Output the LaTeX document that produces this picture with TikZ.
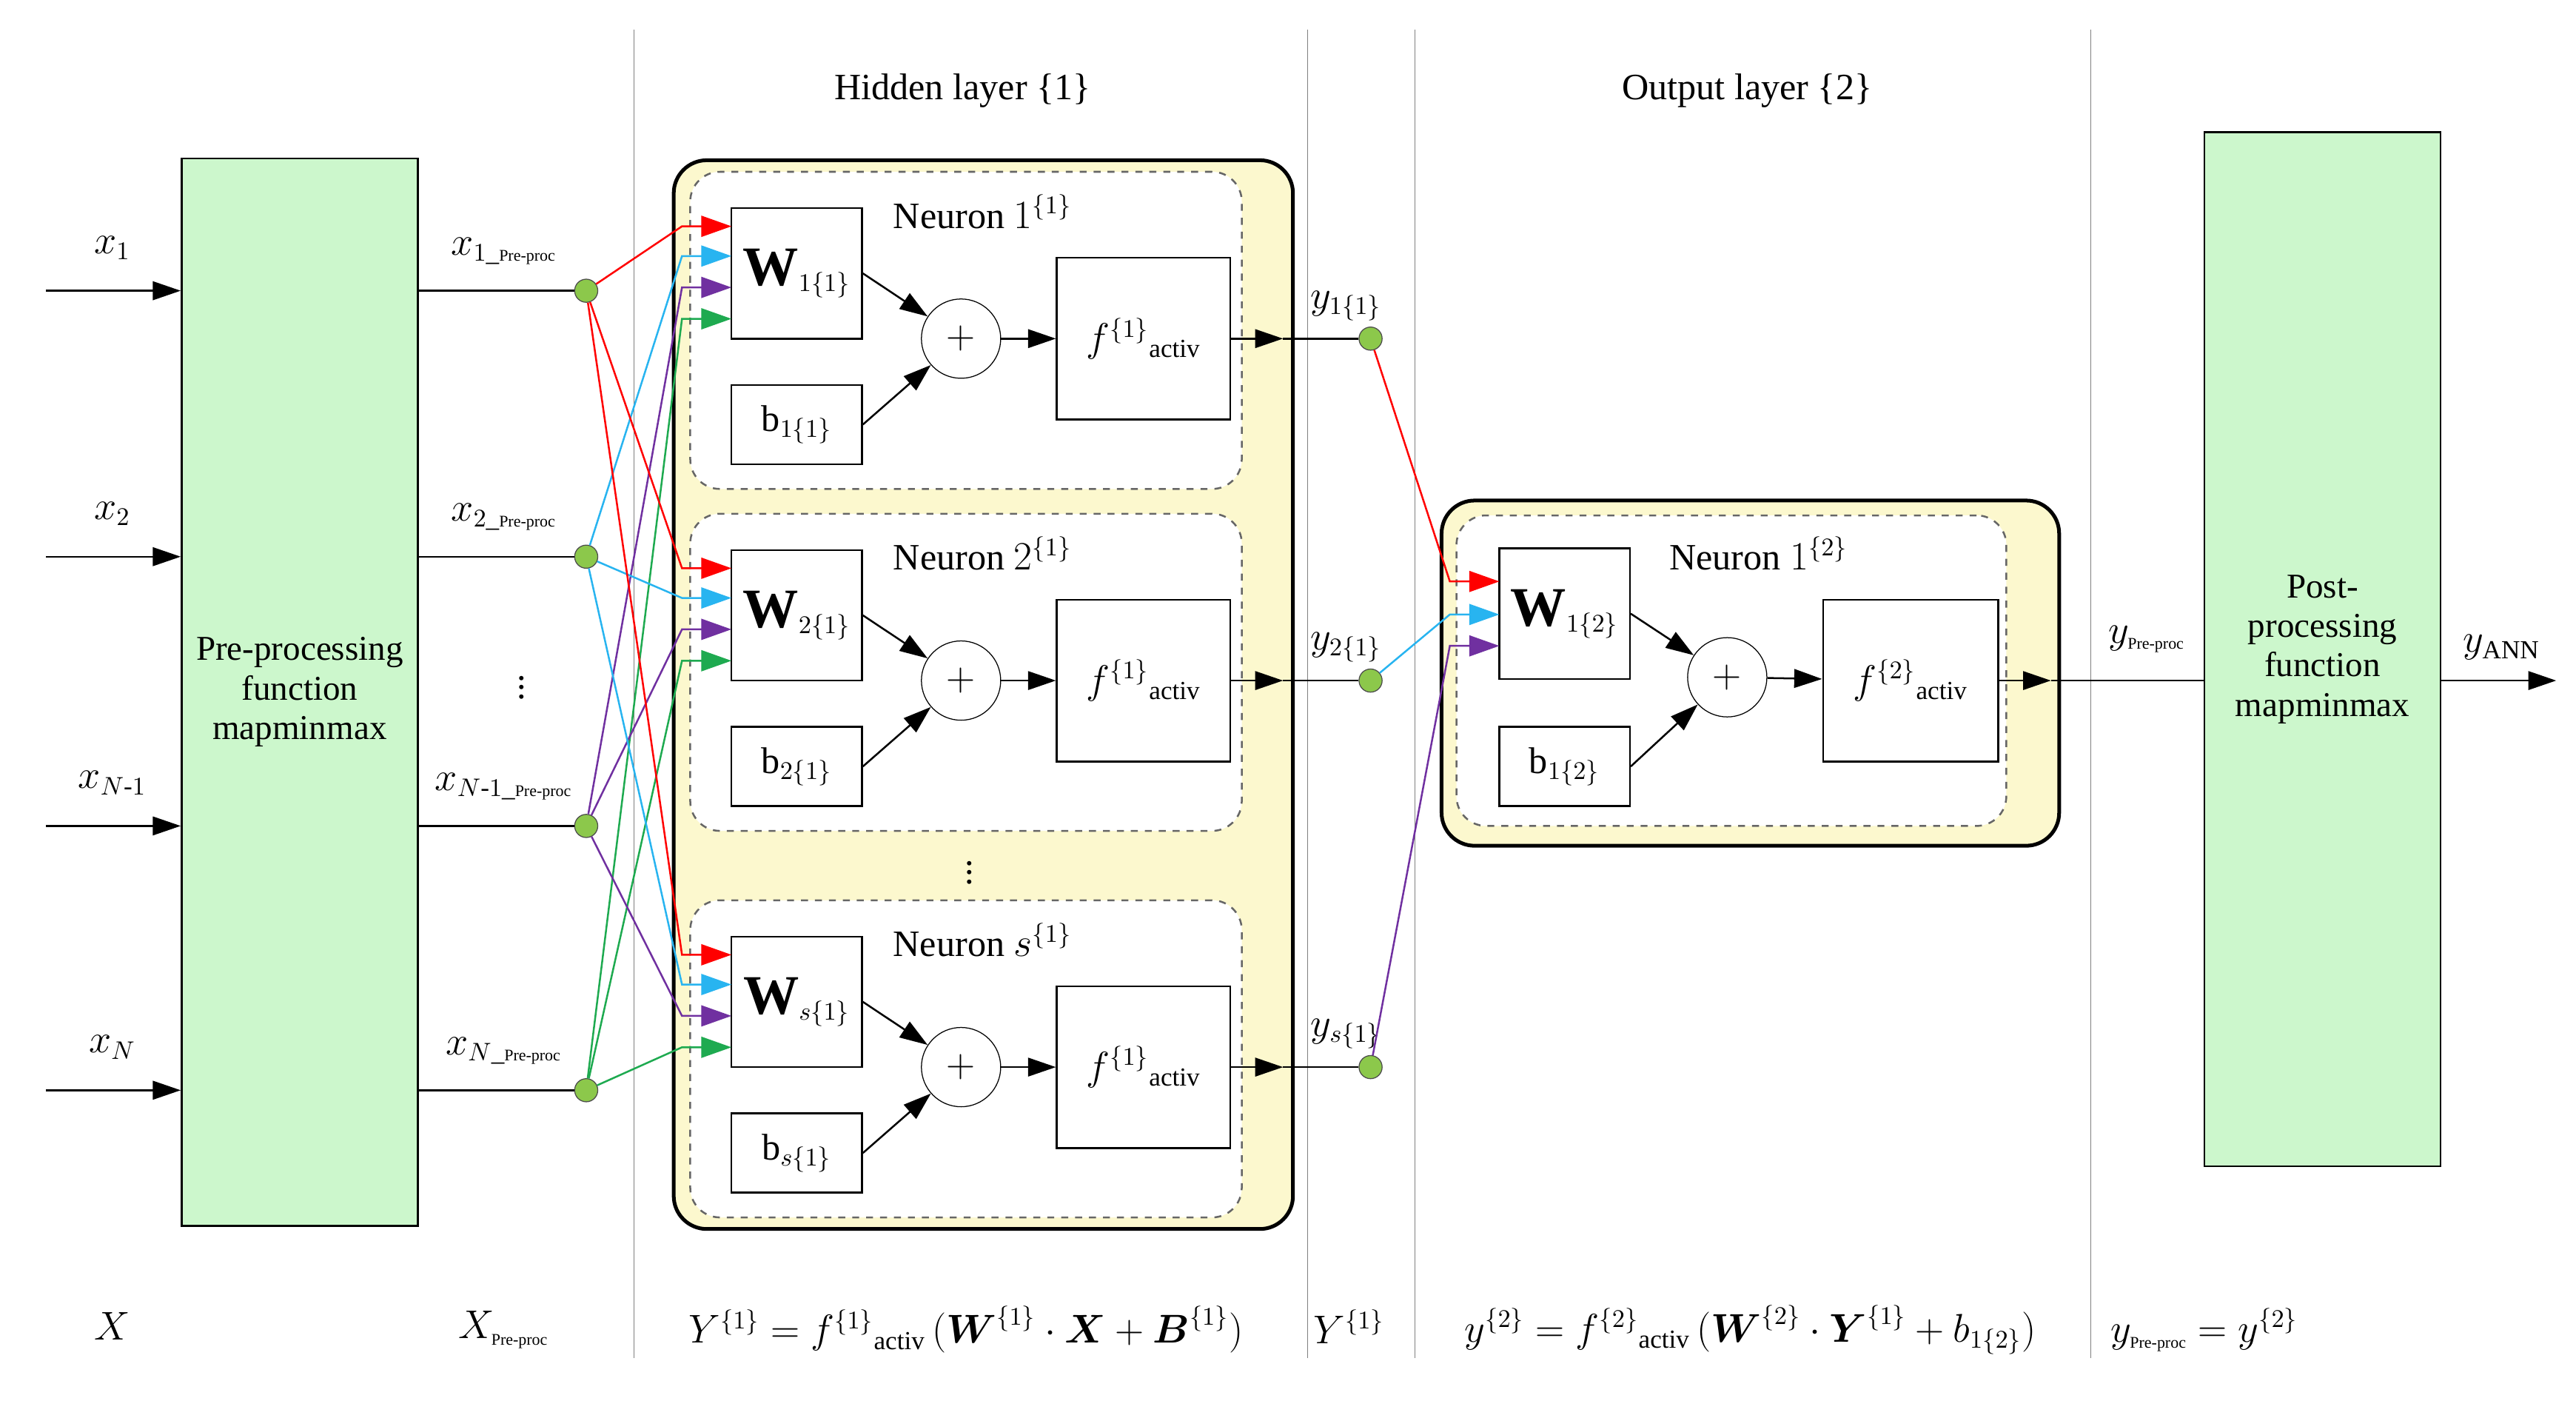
\documentclass[tikz,border=0pt]{standalone}
\usepackage{amsmath}
\usepackage{fontspec}
\setmainfont{Liberation Serif}
\usetikzlibrary{arrows.meta,positioning}
\definecolor{procgreen}{RGB}{204,247,204}
\definecolor{layeryellow}{RGB}{252,248,206}
\definecolor{dotgreen}{RGB}{140,200,75}
\definecolor{cred}{RGB}{255,0,0}
\definecolor{cblue}{RGB}{40,180,240}
\definecolor{cpurple}{RGB}{112,48,160}
\definecolor{cgreen}{RGB}{30,170,80}
\def\px{0.025cm}
\newcommand{\bigW}{\textbf{\fontsize{24}{24}\selectfont W}}
\tikzset{
  blk/.style={draw, thick, fill=white, minimum width=79*\px, minimum height=79*\px, inner sep=0pt},
  proc/.style={draw, thick, fill=procgreen, align=center, inner sep=0pt, font=\fontsize{15}{17}\selectfont},
  layer/.style={draw, line width=1.6pt, fill=layeryellow, rounded corners=0.5cm},
  nbox/.style={draw=black!60, thick, dashed, fill=white, rounded corners=0.45cm},
  sum/.style={draw, circle, fill=white, minimum size=48*\px, inner sep=0pt},
  dot/.style={draw=black!70, circle, fill=dotgreen, minimum size=14*\px, inner sep=0pt},
  vdot/.style={inner sep=0pt},
  sep/.style={black!50, thin},
  wire/.style={thick, -{Triangle[length=12pt,width=8pt]}},
  cwire/.style={thick, -{Triangle[length=13pt,width=9pt]}}
}
\begin{document}
\begin{tikzpicture}[x=0.025cm, y=-0.025cm, font=\fontsize{16}{18}\selectfont]
\useasboundingbox (0,0) rectangle (1560,848);

% separators and titles
\foreach \sx in {384,792,857,1266} \draw[sep] (\sx,18) -- (\sx,822);
\node (thid) at (583,55) {Hidden layer \{1\}};
\node (tout) at (1058,55) {Output layer \{2\}};

% pre-processing
\node[proc, minimum width=143*\px, minimum height=646*\px] (pre) at (181.5,419) {Pre-processing\\function\\mapminmax};
\foreach \i/\yy/\lab/\plab in {1/176/x_1/1, 2/337/x_2/2, 3/500/x_{N\text{-}1}/N\text{-}1, 4/660/x_N/N} {
  \coordinate (in\i) at (28,\yy);
  \draw[wire] (in\i) -- (in\i -| pre.west);
  \node (lx\i) at (68,\yy-26) {$\lab$};
  \node (lp\i) at (305,\yy-24) {$x_{\plab\_\text{\scriptsize Pre-proc}}$};
  \node[dot] (d\i) at (355,\yy) {};
  \draw[thick] (d\i -| pre.east) -- (d\i);
}
\node[vdot] (vd1) at (316,412) {$\vdots$};

% hidden layer
\node[layer, minimum width=375*\px, minimum height=647*\px] (hid) at (595.5,420.5) {};
\foreach \n/\o/\nlab in {1/0/1, 2/207/2, s/441/s} {
  \node[nbox, minimum width=334*\px, minimum height=192*\px] (n\n) at (585,200+\o) {};
  \node (tn\n) at (595,128+\o) {Neuron $\nlab^{\{1\}}$};
  \node[blk] (W\n) at (482.5,165.5+\o) {\bigW$_{\n\{1\}}$};
  \node[blk, minimum height=48*\px] (b\n) at (482.5,257+\o) {b$_{\n\{1\}}$};
  \node[sum] (s\n) at (582,205+\o) {$+$};
  \node[blk, minimum width=105*\px, minimum height=98*\px] (f\n) at (692.5,205+\o) {$f^{\{1\}}{}_{\text{activ}}$};
  \node[dot] (y\n) at (830,205+\o) {};
  \node (ly\n) at (815,185+\o) {$y_{\n\{1\}}$};
  \coordinate (o\n) at (777,205+\o);
  \draw[wire] (W\n.east) -- (s\n);
  \draw[wire] (b\n.east) -- (s\n);
  \draw[wire] (s\n) -- (f\n);
  \draw[wire] (f\n) -- (o\n);
  \draw[thick] (o\n) -- (y\n);
  \foreach \i/\c/\dy in {1/cred/137, 2/cblue/155, 3/cpurple/174, 4/cgreen/193} {
    \coordinate (e\n\i) at (443,\dy+\o);
    \draw[cwire, \c] (d\i) -- (413,\dy+\o) -- (e\n\i);
  }
}
\node[vdot] (vd2) at (587,524) {$\vdots$};

% output layer
\node[layer, minimum width=374*\px, minimum height=209*\px] (outl) at (1060,407.5) {};
\node[nbox, minimum width=333*\px, minimum height=188*\px] (no) at (1048.5,406) {};
\node (tno) at (1065,335) {Neuron $1^{\{2\}}$};
\node[blk] (Wo) at (947.5,371.5) {\bigW$_{1\{2\}}$};
\node[blk, minimum height=48*\px] (bo) at (947.5,464) {b$_{1\{2\}}$};
\node[sum] (so) at (1046,410) {$+$};
\node[blk, minimum width=106*\px, minimum height=98*\px] (fo) at (1157,412) {$f^{\{2\}}{}_{\text{activ}}$};
\draw[wire] (Wo.east) -- (so);
\draw[wire] (bo.east) -- (so);
\draw[wire] (so) -- (fo);
\foreach \n/\c/\dy in {1/cred/352, 2/cblue/372, s/cpurple/391} {
  \coordinate (eo\n) at (908,\dy);
  \draw[cwire, \c] (y\n) -- (878,\dy) -- (eo\n);
}

% post-processing
\node[proc, minimum width=143*\px, minimum height=626*\px] (post) at (1406.5,393) {Post-\\processing\\function\\mapminmax};
\coordinate (oo) at (1242,412);
\draw[wire] (fo) -- (oo);
\draw[thick] (oo) -- (oo -| post.west);
\coordinate (yann) at (1548,412);
\draw[wire] (yann -| post.east) -- (yann);
\node (lypre) at (1300,387) {$y_{\text{\scriptsize Pre-proc}}$};
\node (lyann) at (1515,392) {$y_{\text{ANN}}$};

% bottom equations
\node (eX) at (68,803) {$X$};
\node (eXp) at (305,805) {$X_{\text{\scriptsize Pre-proc}}$};
\node (eY1) at (585,805) {$Y^{\{1\}}=f^{\{1\}}{}_{\text{activ}}\,(\boldsymbol{W}^{\{1\}}\cdot\boldsymbol{X}+\boldsymbol{B}^{\{1\}})$};
\node (eY) at (817,803) {$Y^{\{1\}}$};
\node (ey2) at (1060,805) {$y^{\{2\}}=f^{\{2\}}{}_{\text{activ}}\,(\boldsymbol{W}^{\{2\}}\cdot\boldsymbol{Y}^{\{1\}}+b_{1\{2\}})$};
\node (eyp) at (1335,805) {$y_{\text{\scriptsize Pre-proc}}=y^{\{2\}}$};
\end{tikzpicture}
\end{document}
